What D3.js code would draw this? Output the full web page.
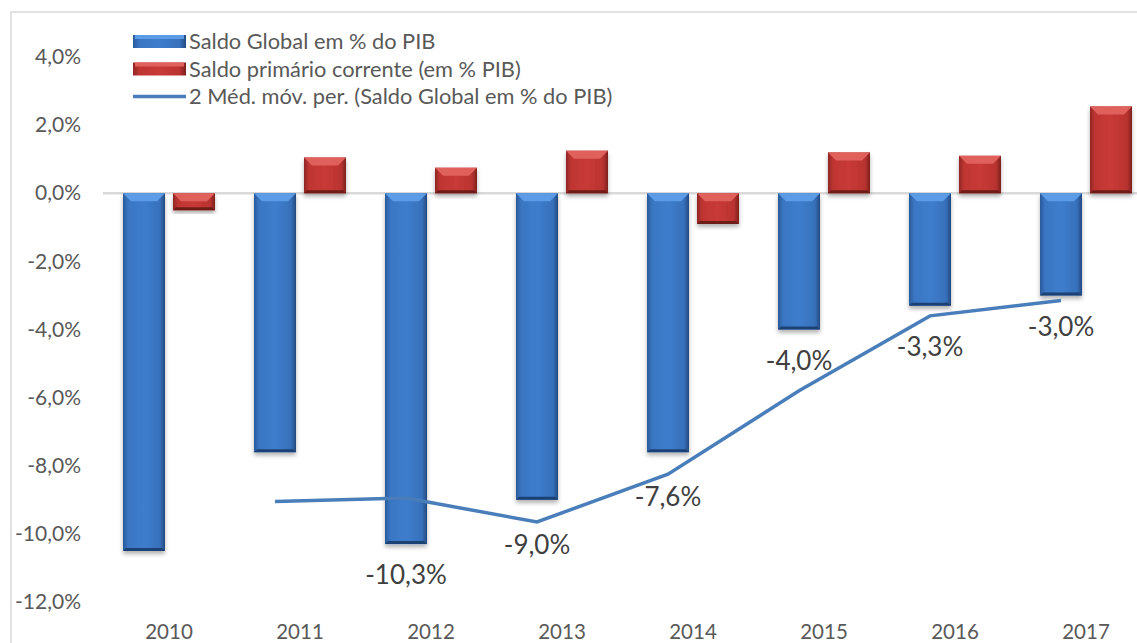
<!DOCTYPE html>
<html>
<head>
<meta charset="utf-8">
<script src="https://cdn.jsdelivr.net/npm/d3@7"></script>
<style>
  body { margin: 0; background: #fff; }
  text { font-family: Lato, "Open Sans", sans-serif; }
</style>
</head>
<body>
<script>
// Canvas size
var width = 1137;
var height = 643;

// Chart data
var years = ["2010", "2011", "2012", "2013", "2014", "2015", "2016", "2017"];
var saldoGlobal = [-10.5, -7.6, -10.3, -9.0, -7.6, -4.0, -3.3, -3.0];
var saldoPrimario = [-0.5, 1.05, 0.75, 1.25, -0.9, 1.2, 1.1, 2.55];
var mediaYears = ["2011", "2012", "2013", "2014", "2015", "2016", "2017"];
var mediaMovel = [-9.05, -8.95, -9.65, -8.25, -5.8, -3.6, -3.15];
var labelYears = ["2012", "2013", "2014", "2015", "2016", "2017"];
var labelValues = [-10.3, -9.0, -7.6, -4.0, -3.3, -3.0];
var yTicks = [-12, -10, -8, -6, -4, -2, 0, 2, 4];
var legendNames = ["Saldo Global em % do PIB", "Saldo primário corrente (em % PIB)",
    "2 Méd. móv. per. (Saldo Global em % do PIB)"];

// label offsets below the value (manual placement in the original)
var labelOffsets = [31, 45, 45, 31, 41, 31];

var fmt = function (v) { return d3.format(".1f")(v).replace(".", ",").replace("−", "-") + "%"; };

var svg = d3.select("body")
    .append("svg")
    .attr("width", width)
    .attr("height", height);

var defs = svg.append("defs");

// gradients for the bevelled bars
function barGradient(id, stops) {
    var g = defs.append("linearGradient").attr("id", id)
        .attr("x1", "0%").attr("x2", "100%").attr("y1", "0%").attr("y2", "0%");
    stops.forEach(function (s) {
        g.append("stop").attr("offset", s[0]).attr("stop-color", s[1]);
    });
}
barGradient("gBlue", [["0%", "#2a5a98"], ["12%", "#3a76c2"], ["50%", "#3d7dcc"], ["88%", "#3871bb"], ["100%", "#22497f"]]);
barGradient("gRed", [["0%", "#8f2624"], ["12%", "#bf3532"], ["50%", "#c83a37"], ["88%", "#b93330"], ["100%", "#7e1f1d"]]);

var shadow = defs.append("filter").attr("id", "shadow")
    .attr("x", "-20%").attr("y", "-20%").attr("width", "140%").attr("height", "140%");
shadow.append("feDropShadow").attr("dx", 0).attr("dy", 3).attr("stdDeviation", 2)
    .attr("flood-color", "#000").attr("flood-opacity", 0.3);

// chart frame
svg.append("rect")
    .attr("x", 11).attr("y", 12)
    .attr("width", width + 20).attr("height", height + 20)
    .attr("fill", "none").attr("stroke", "#d9d9d9").attr("stroke-width", 1.5);

// Scales
var x = d3.scaleBand().domain(years).range([103.5, 1151.5]);
var y = d3.scaleLinear().domain([-12, 4]).range([602, 57]);
var barW = 42;
var blueX = function (yr) { return x(yr) + x.bandwidth() / 2 - 25; };
var redX = function (yr) { return x(yr) + x.bandwidth() / 2 + 25; };

// Y axis
var yAxis = svg.append("g")
    .attr("transform", "translate(81,0)")
    .call(d3.axisLeft(y).tickValues(yTicks).tickSize(0).tickPadding(0).tickFormat(fmt));
yAxis.select(".domain").remove();
yAxis.selectAll("text").attr("font-size", 21).attr("fill", "#595959")
    .style("font-family", "Lato, sans-serif");

// X axis labels
var xAxis = svg.append("g")
    .attr("transform", "translate(0,618)")
    .call(d3.axisBottom(x).tickSize(0).tickPadding(6));
xAxis.select(".domain").remove();
xAxis.selectAll("text").attr("font-size", 20.5).attr("fill", "#595959")
    .style("font-family", "Lato, sans-serif");

// zero line
svg.append("line")
    .attr("x1", 103).attr("x2", width)
    .attr("y1", y(0)).attr("y2", y(0))
    .attr("stroke", "#d9d9d9").attr("stroke-width", 2.5);

// draws one bevelled bar
function drawBar(g, cx, v, grad, light, dark) {
    var top = Math.min(y(0), y(v)), h = Math.abs(y(v) - y(0));
    var x0 = cx - barW / 2, x1 = cx + barW / 2;
    var bev = Math.min(8, h / 2);
    var bar = g.append("g").attr("filter", "url(#shadow)");
    bar.append("rect").attr("x", x0).attr("y", top).attr("width", barW).attr("height", h)
        .attr("fill", "url(#" + grad + ")");
    bar.append("path")
        .attr("d", "M" + x0 + "," + top + "L" + x1 + "," + top + "L" + (x1 - bev) + "," + (top + bev) +
            "L" + (x0 + bev) + "," + (top + bev) + "Z")
        .attr("fill", light);
    bar.append("path")
        .attr("d", "M" + x0 + "," + (top + h) + "L" + x1 + "," + (top + h) + "L" + (x1 - 3) + "," + (top + h - 3) +
            "L" + (x0 + 3) + "," + (top + h - 3) + "Z")
        .attr("fill", dark);
}

var bars = svg.append("g");
years.forEach(function (yr, i) {
    drawBar(bars, blueX(yr), saldoGlobal[i], "gBlue", "#5c9ce6", "#1f4274");
    drawBar(bars, redX(yr), saldoPrimario[i], "gRed", "#e0605c", "#6e1a18");
});

// moving average line
var line = d3.line()
    .x(function (d) { return blueX(d[0]); })
    .y(function (d) { return y(d[1]); });
svg.append("path")
    .datum(mediaYears.map(function (yr, i) { return [yr, mediaMovel[i]]; }))
    .attr("d", line)
    .attr("fill", "none")
    .attr("stroke", "#4a7ebb")
    .attr("stroke-width", 3.5);

// data labels
svg.selectAll(".dlabel")
    .data(labelYears)
    .enter()
    .append("text")
    .attr("class", "dlabel")
    .attr("x", function (d) { return blueX(d); })
    .attr("y", function (d, i) { return y(labelValues[i]) + labelOffsets[i]; })
    .attr("dy", "0.35em")
    .attr("text-anchor", "middle")
    .attr("font-size", 26)
    .attr("fill", "#404040")
    .text(function (d, i) { return fmt(labelValues[i]); });

// Legend
var legend = svg.append("g").attr("transform", "translate(133,41.5)");
var rowH = 27.5;
[["gBlue", "#5c9ce6"], ["gRed", "#e0605c"]].forEach(function (s, i) {
    var r = legend.append("g").attr("transform", "translate(0," + (i * rowH) + ")");
    r.append("rect").attr("x", 0).attr("y", -6.5).attr("width", 53).attr("height", 13)
        .attr("fill", "url(#" + s[0] + ")");
    r.append("rect").attr("x", 2).attr("y", -6.5).attr("width", 49).attr("height", 4)
        .attr("fill", s[1]);
});
legend.append("line")
    .attr("x1", 0).attr("x2", 53).attr("y1", 2 * rowH).attr("y2", 2 * rowH)
    .attr("stroke", "#4a7ebb").attr("stroke-width", 3.5);
legend.selectAll(".ltext")
    .data(legendNames)
    .enter()
    .append("text")
    .attr("x", 56)
    .attr("y", function (d, i) { return i * rowH; })
    .attr("dy", "0.35em")
    .attr("font-size", 21.8)
    .attr("fill", "#595959")
    .text(function (d) { return d; });
</script>
</body>
</html>
